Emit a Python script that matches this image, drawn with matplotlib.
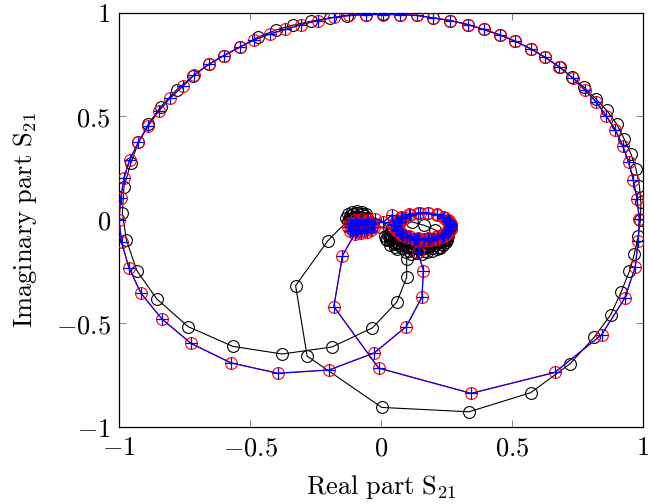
import matplotlib
matplotlib.use("Agg")
import matplotlib.pyplot as plt
from matplotlib.ticker import FixedLocator, FixedFormatter

plt.rcParams['mathtext.fontset'] = 'cm'
plt.rcParams['font.family'] = ['DejaVu Serif']

# ---- black series (Re, Im) ----
black_re = [
    -0.070, -0.073, -0.080, -0.090, -0.100, -0.107, -0.110, -0.107, -0.100, -0.090, -0.080, -0.073,
    -0.058, -0.062, -0.074, -0.090, -0.106, -0.118, -0.122, -0.118, -0.106, -0.090, -0.074, -0.062,
    -0.052, -0.057, -0.072, -0.092, -0.112, -0.127, -0.132, -0.127,
    -0.202, -0.326, -0.282, 0.003, 0.336, 0.571, 0.721, 0.813, 0.877, 0.916, 0.948, 0.967, 0.982,
    0.990, 0.992, 0.986, 0.973, 0.954, 0.928, 0.899, 0.862, 0.820, 0.775, 0.728, 0.682, 0.626,
    0.571, 0.513, 0.453, 0.392, 0.331, 0.264, 0.200, 0.137, 0.073, 0.007, -0.059, -0.129, -0.193,
    -0.266, -0.336, -0.400, -0.470, -0.540, -0.600, -0.655, -0.719, -0.780, -0.840, -0.888, -0.926,
    -0.955, -0.981, -0.987, -0.972, -0.932, -0.856, -0.736, -0.566, -0.377, -0.187, -0.033, 0.060,
    0.098, 0.098,
    0.114, 0.156, 0.195, 0.227, 0.248, 0.255, 0.207, 0.166, 0.118, 0.070, 0.030, 0.015,
    0.020, 0.034, 0.060, 0.096, 0.136, 0.176, 0.212, 0.238, 0.252,
    0.250, 0.243, 0.224, 0.194, 0.157, 0.119, 0.082, 0.052, 0.033, 0.026,
    0.033, 0.045, 0.070, 0.102, 0.139, 0.176, 0.208, 0.233, 0.245,
    0.245, 0.239, 0.220, 0.193, 0.158, 0.122, 0.088, 0.060, 0.041, 0.035,
    0.024, 0.054, 0.107, 0.167, 0.220, 0.250,
    0.243, 0.215, 0.167, 0.111, 0.063, 0.035,
    0.041, -0.004,
]
black_im = [
    0.000, 0.008, 0.013, 0.015, 0.013, 0.008, 0.000, -0.008, -0.013, -0.015, -0.013, -0.008,
    0.005, 0.018, 0.027, 0.030, 0.027, 0.018, 0.005, -0.008, -0.017, -0.020, -0.017, -0.008,
    0.010, 0.025, 0.036, 0.040, 0.036, 0.025, 0.010, -0.005,
    -0.101, -0.319, -0.659, -0.907, -0.928, -0.836, -0.697, -0.569, -0.459, -0.351, -0.250, -0.166, -0.077,
    -0.001, 0.084, 0.164, 0.245, 0.317, 0.390, 0.462, 0.527, 0.583, 0.639, 0.688, 0.736, 0.784,
    0.825, 0.861, 0.892, 0.918, 0.942, 0.961, 0.974, 0.986, 0.990, 0.993, 0.990, 0.984, 0.974,
    0.958, 0.939, 0.916, 0.881, 0.832, 0.792, 0.752, 0.692, 0.627, 0.546, 0.462, 0.373,
    0.272, 0.159, 0.032, -0.098, -0.246, -0.383, -0.517, -0.612, -0.649, -0.615, -0.523, -0.399,
    -0.279, -0.190,
    -0.164, -0.164, -0.154, -0.135, -0.109, -0.080, -0.050, -0.028, -0.011, -0.015, -0.040, -0.080,
    -0.094, -0.121, -0.143, -0.157, -0.162, -0.157, -0.143, -0.121, -0.094,
    -0.075, -0.099, -0.120, -0.136, -0.144, -0.144, -0.136, -0.120, -0.099, -0.075,
    -0.085, -0.106, -0.123, -0.134, -0.138, -0.134, -0.123, -0.106, -0.085,
    -0.070, -0.090, -0.107, -0.120, -0.127, -0.127, -0.120, -0.107, -0.090, -0.070,
    -0.099, -0.134, -0.154, -0.154, -0.134, -0.099,
    -0.088, -0.114, -0.130, -0.130, -0.114, -0.088,
    -0.043, -0.035,
]

# ---- red series (Re, Im) ----
red_re = [
    -0.050, -0.053, -0.063, -0.075, -0.088, -0.097, -0.100, -0.097, -0.088, -0.075, -0.063, -0.053,
    -0.035, -0.040, -0.055, -0.075, -0.095, -0.110, -0.115, -0.110, -0.095, -0.075, -0.055, -0.040,
    -0.025, -0.032, -0.050, -0.075, -0.100, -0.118, -0.125, -0.118, -0.100,
    -0.147, -0.180, -0.009, 0.344, 0.663, 0.842, 0.931, 0.970, 0.982, 0.986, 0.977, 0.963, 0.945,
    0.923, 0.895, 0.860, 0.822, 0.777, 0.731, 0.681, 0.626, 0.571, 0.513, 0.453, 0.392, 0.331,
    0.264, 0.200, 0.137, 0.073, 0.009, -0.059, -0.121, -0.179, -0.240, -0.304, -0.365, -0.423,
    -0.483, -0.540, -0.600, -0.658, -0.713, -0.757, -0.806, -0.849, -0.888, -0.926, -0.959, -0.981,
    -0.993, -1.000, -0.990, -0.962, -0.916, -0.836, -0.725, -0.572, -0.393, -0.198, -0.026, 0.096,
    0.156, 0.162, 0.141,
    0.178, 0.214, 0.242, 0.261, 0.268, 0.261, 0.242, 0.214, 0.178, 0.140, 0.105, 0.076, 0.057,
    0.050, 0.057, 0.076, 0.105, 0.140,
    0.180, 0.214, 0.242, 0.260, 0.266, 0.260, 0.242, 0.180, 0.110, 0.082, 0.064, 0.058, 0.064,
    0.082, 0.110, 0.144,
    0.183, 0.215, 0.241, 0.258, 0.264, 0.258, 0.215, 0.149, 0.091, 0.074,
    0.059, 0.071, 0.095, 0.127, 0.163, 0.199, 0.231, 0.255, 0.267, 0.267, 0.255,
    0.253, 0.265, 0.265, 0.253, 0.231, 0.200, 0.165, 0.130, 0.099, 0.077, 0.065,
    0.058, 0.085, 0.133, 0.189, 0.237, 0.264, 0.264,
    0.262, 0.262, 0.235, 0.190, 0.138, 0.093, 0.066,
    0.047, 0.041, 0.009, -0.023,
]
red_im = [
    -0.036, -0.027, -0.020, -0.018, -0.020, -0.027, -0.036, -0.045, -0.052, -0.054, -0.052, -0.045,
    -0.036, -0.021, -0.010, -0.006, -0.010, -0.021, -0.036, -0.051, -0.062, -0.066, -0.062, -0.051,
    -0.036, -0.018, -0.004, 0.001, -0.004, -0.018, -0.036, -0.054, -0.068,
    -0.174, -0.420, -0.717, -0.839, -0.738, -0.556, -0.378, -0.230, -0.101, 0.003, 0.100, 0.192, 0.277,
    0.355, 0.432, 0.500, 0.567, 0.627, 0.685, 0.737, 0.784, 0.825, 0.861, 0.892, 0.918, 0.942,
    0.961, 0.974, 0.986, 0.990, 0.990, 0.990, 0.987, 0.977, 0.961, 0.942, 0.918, 0.897,
    0.868, 0.832, 0.792, 0.749, 0.699, 0.643, 0.586, 0.523, 0.454, 0.373, 0.290, 0.201,
    0.105, 0.000, -0.110, -0.233, -0.356, -0.480, -0.598, -0.692, -0.742, -0.726, -0.644, -0.517,
    -0.375, -0.246, -0.158,
    -0.088, -0.081, -0.067, -0.049, -0.028, -0.007, 0.011, 0.025, 0.032, 0.032, 0.025, 0.011, -0.007,
    -0.028, -0.049, -0.067, -0.081, -0.088,
    -0.094, -0.086, -0.072, -0.053, -0.031, -0.009, 0.010, 0.032, 0.024, 0.010, -0.009, -0.031, -0.053,
    -0.072, -0.086, -0.094,
    -0.100, -0.092, -0.077, -0.057, -0.034, -0.011, 0.024, 0.032, 0.009, -0.011,
    -0.044, -0.065, -0.081, -0.092, -0.096, -0.092, -0.081, -0.065, -0.044, -0.022, -0.002,
    -0.005, -0.025, -0.047, -0.067, -0.083, -0.094, -0.098, -0.094, -0.083, -0.067, -0.047,
    -0.047, -0.076, -0.092, -0.092, -0.076, -0.047, -0.015,
    -0.018, -0.052, -0.080, -0.097, -0.097, -0.080, -0.052,
    -0.019, 0.021, -0.011, 0.004,
]

# ---- blue series coincides with the red one ----
blue_re = list(red_re)
blue_im = list(red_im)

ticks = [-1, -0.5, 0, 0.5, 1]
tick_labels = [r'$-1$', r'$-0.5$', r'$0$', r'$0.5$', r'$1$']

fig = plt.figure(figsize=(6.48, 5.04), dpi=100)
ax = fig.add_axes([119 / 648, 1 - 426.7 / 504, 524 / 648, 414.2 / 504])

ax.plot(black_re, black_im, color='black', lw=0.8, marker='o', ms=8.5,
        mfc='none', mec='black', mew=0.8, zorder=2)
ax.plot(red_re, red_im, color='red', lw=0.9, marker='o', ms=8.5,
        mfc='none', mec='red', mew=0.8, zorder=3)
ax.plot(blue_re, blue_im, color='blue', lw=0.8, marker='+', ms=9,
        mec='blue', mew=0.9, zorder=4)

ax.set_xlim(-1, 1)
ax.set_ylim(-1, 1)
for a in (ax.xaxis, ax.yaxis):
    a.set_major_locator(FixedLocator(ticks))
    a.set_major_formatter(FixedFormatter(tick_labels))
ax.tick_params(direction='in', length=5, width=0.6, color='0.45',
               top=True, right=True, labelsize=19, pad=6)
for s in ax.spines.values():
    s.set_linewidth(0.9)

ax.set_xlabel(r'$\mathrm{Real\ part\ S_{21}}$', fontsize=19, labelpad=9)
ax.set_ylabel(r'$\mathrm{Imaginary\ part\ S_{21}}$', fontsize=19, labelpad=12)

fig.savefig('out.png', dpi=100)
